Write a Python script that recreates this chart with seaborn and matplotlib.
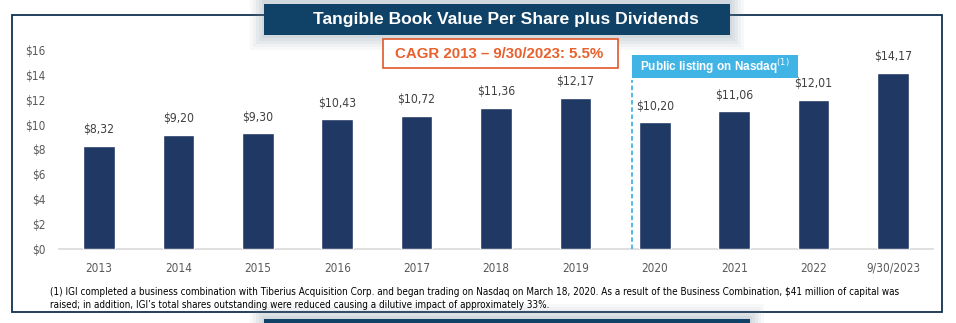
import matplotlib
matplotlib.use("Agg")
import matplotlib.pyplot as plt
import seaborn as sns
import pandas as pd
from matplotlib.patches import Rectangle

categories = ["2013", "2014", "2015", "2016", "2017", "2018", "2019", "2020", "2021", "2022", "9/30/2023"]
values = [8.32, 9.20, 9.30, 10.43, 10.72, 11.36, 12.17, 10.20, 11.06, 12.01, 14.17]
value_labels = ["$8,32", "$9,20", "$9,30", "$10,43", "$10,72", "$11,36", "$12,17", "$10,20", "$11,06", "$12,01", "$14,17"]
y_ticks = [0, 2, 4, 6, 8, 10, 12, 14, 16]
y_tick_labels = ["$0", "$2", "$4", "$6", "$8", "$10", "$12", "$14", "$16"]
title = "Tangible Book Value Per Share plus Dividends"
cagr_text = "CAGR 2013 – 9/30/2023: 5.5%"
listing_text = "Public listing on Nasdaq$^{(1)}$"
footnote_lines = [
    "(1) IGI completed a business combination with Tiberius Acquisition Corp. and began trading on Nasdaq on March 18, 2020. "
    "As a result of the Business Combination, \\$41 million of capital was",
    "raised; in addition, IGI’s total shares outstanding were reduced causing a dilutive impact of approximately 33%.",
]

sns.set_theme(style="white")
SANS = ["Liberation Sans", "DejaVu Sans"]
plt.rcParams["font.family"] = SANS

W, H = 956, 323
fig = plt.figure(figsize=(W / 100, H / 100), dpi=100)
fig.patch.set_facecolor("white")


def fx(px):
    return px / W


def fy(py):
    return 1 - py / H


def frect(x0, y0, x1, y1, **kw):
    r = Rectangle((fx(x0), fy(y1)), fx(x1) - fx(x0), fy(y0) - fy(y1), transform=fig.transFigure, **kw)
    fig.patches.append(r)
    return r


# outer frame
frect(12, 15, 942, 312, fill=False, edgecolor="#12304F", linewidth=1.3, zorder=1)

# shadows around title box & bottom box
for i, a in enumerate([0.05, 0.06, 0.07, 0.08, 0.09]):
    d = 14 - i * 3
    frect(264 - d, 0, 730 + d, 36 + d, facecolor="#6F8499", edgecolor="none", alpha=a, zorder=2)
    frect(264 - d, 318 - d, 750 + d, 323, facecolor="#6F8499", edgecolor="none", alpha=a, zorder=2)

frect(264, 4, 730, 35, facecolor="#0F4266", edgecolor="none", zorder=3)
frect(264, 319, 750, 330, facecolor="#0F4266", edgecolor="none", zorder=3)
fig.text(fx(506), fy(19.5), title, color="white", fontsize=12.6, fontweight="bold",
         ha="center", va="center", zorder=4)

# axes
ax = fig.add_axes([fx(59.3), fy(249), fx(932.7) - fx(59.3), fy(50) - fy(249)])
df = pd.DataFrame({"cat": categories, "val": values})
sns.barplot(data=df, x="cat", y="val", color="#203864", width=0.4, saturation=1, ax=ax, zorder=3)
ax.set_xlim(-0.5, len(categories) - 0.5)
ax.set_ylim(0, 16)
ax.set_xlabel("")
ax.set_ylabel("")
ax.set_yticks(y_ticks)
ax.set_yticklabels(y_tick_labels, fontsize=8.5, color="#595959", family="DejaVu Sans", stretch="condensed")
ax.set_xticks(range(len(categories)))
ax.set_xticklabels(categories, fontsize=8.5, color="#595959", family="DejaVu Sans", stretch="condensed")
for s in ["top", "right", "left"]:
    ax.spines[s].set_visible(False)
ax.spines["bottom"].set_color("#D9D9D9")
ax.spines["bottom"].set_linewidth(1.2)
ax.tick_params(axis="y", length=0, pad=10)
ax.tick_params(axis="x", length=0, pad=9)
ax.set_xticks([i - 0.5 for i in range(len(categories) + 1)], minor=True)
ax.tick_params(axis="x", which="minor", length=4, color="#D9D9D9", width=1, direction="out")
ax.patch.set_alpha(0)

for i, (v, lab) in enumerate(zip(values, value_labels)):
    ax.text(i, v + 0.75, lab, ha="center", va="bottom", fontsize=8.7, color="#404040",
            family="DejaVu Sans", stretch="condensed")

# listing dashed line
ax.plot([6.71, 6.71], [0, 13.6], linestyle=(0, (2.5, 1.5)), color="#41B4E6", linewidth=1.3, zorder=4, clip_on=False)

# CAGR box
frect(383, 39, 618, 68, facecolor="white", edgecolor="#E0582A", linewidth=1.2, zorder=5)
fig.text(fx(499), fy(53.5), cagr_text, color="#E8602C", fontsize=10.8, fontweight="bold",
         ha="center", va="center", zorder=6)

# public listing box
frect(632, 55, 798, 78, facecolor="#41B4E6", edgecolor="none", zorder=5)
fig.text(fx(715), fy(66.5), listing_text, color="white", fontsize=8.5, fontweight="bold",
         ha="center", va="center", zorder=6)

# footnote
for k, line in enumerate(footnote_lines):
    fig.text(fx(50), fy(292 + 13 * k), line, color="black", fontsize=7.1, ha="left", va="center",
             family="DejaVu Sans", stretch="condensed")

fig.savefig("out.png", dpi=100)
